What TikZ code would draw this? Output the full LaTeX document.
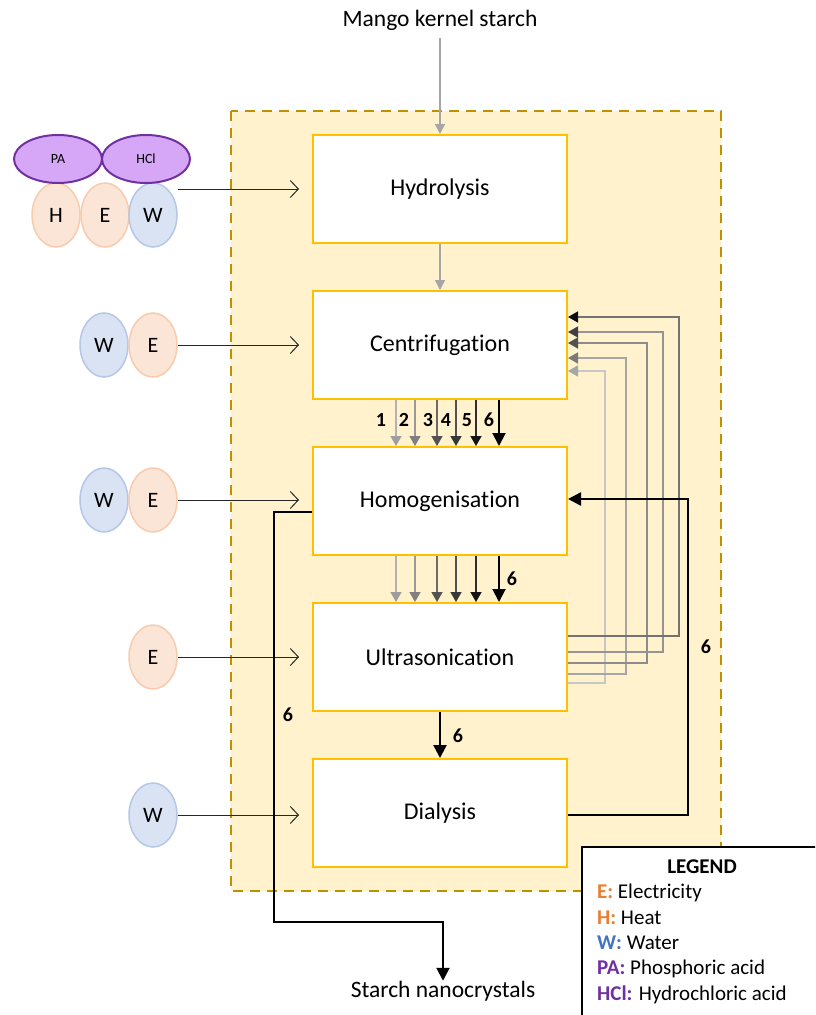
\documentclass[tikz,border=0pt]{standalone}
\usepackage{fontspec}
\setmainfont{Carlito}[Ligatures=NoCommon]
\usetikzlibrary{arrows.meta,shapes.geometric}

\definecolor{bgfill}{HTML}{FFF2CC}
\definecolor{bgline}{HTML}{BF9000}
\definecolor{boxline}{HTML}{FFC000}
\definecolor{orangefill}{HTML}{FBE5D6}
\definecolor{orangeline}{HTML}{F8CBAD}
\definecolor{bluefill}{HTML}{DAE3F3}
\definecolor{blueline}{HTML}{B4C7E7}
\definecolor{acidfill}{HTML}{D6A7F7}
\definecolor{acidline}{HTML}{7030A0}
\definecolor{orangetxt}{HTML}{ED7D31}
\definecolor{bluetxt}{HTML}{4472C4}

\tikzset{
  stage/.style={draw=boxline, line width=2pt, fill=white, minimum width=254pt,
    minimum height=108pt, inner sep=0pt, font=\fontsize{24}{28}\selectfont},
  res/.style={ellipse, line width=1.5pt, minimum width=48pt, minimum height=64pt,
    inner sep=0pt, font=\fontsize{22}{26}\selectfont},
  heat/.style={res, draw=orangeline, fill=orangefill},
  water/.style={res, draw=blueline, fill=bluefill},
  acid/.style={ellipse, draw=acidline, fill=acidfill, line width=2pt,
    minimum width=88pt, minimum height=48pt, inner sep=0pt,
    font=\fontsize{14}{16}\selectfont},
  feed/.style={draw=black!85, line width=1pt, -{Straight Barb[length=8pt,width=17pt]}, shorten >=13pt},
  flow/.style={draw=black!35, line width=1.5pt, -{Triangle[length=10pt,width=10pt]}},
  pass/.style 2 args={draw=#1, line width=1.6pt, -{Triangle[length=10pt,width=11pt,color=#2]}},
  main/.style={draw=black, line width=2.4pt, -{Triangle[length=13pt,width=13pt]}},
  num/.style={font=\fontsize{20}{22}\selectfont\bfseries, inner sep=0pt},
  plain/.style={font=\fontsize{23.5}{27}\selectfont, inner sep=0pt},
  lgitem/.style={font=\fontsize{21}{24}\selectfont, inner sep=0pt, anchor=west},
}

\begin{document}
\begin{tikzpicture}[x=1pt, y=-1pt]
\useasboundingbox (0,0) rectangle (815,1015);
\clip (0,0) rectangle (815,1015);

% process frame
\draw[fill=bgfill, draw=bgline, line width=2pt, dash pattern=on 10pt off 7pt]
  (231,111) rectangle (721,891);

% process stages
\node[stage] (hyd) at (440,189) {Hydrolysis};
\node[stage] (cen) at (440,345) {Centrifugation};
\node[stage] (hom) at (440,501) {Homogenisation};
\node[stage] (ult) at (440,657) {Ultrasonication};
\node[stage] (dia) at (440,813) {Dialysis};

% raw material and product
\node[plain] (msk) at (440,20) {Mango kernel starch};
\node[plain] (snc) at (443,991) {Starch nanocrystals};

\draw[flow] (msk.south) ++(0,8) -- (hyd.north);
\draw[flow] (hyd.south) -- (cen.north);

% resource inputs
\node[heat]  (h1) at (56,215) {H};
\node[heat]  (e1) at (105,215) {E};
\node[water] (w1) at (153,215) {W};
\node[acid]  (pa)  at (58,159) {PA};
\node[acid]  (hcl) at (146,159) {HCl};

\node[water] (w2) at (104,345) {W};
\node[heat]  (e2) at (153,345) {E};
\node[water] (w3) at (104,500) {W};
\node[heat]  (e3) at (153,500) {E};
\node[heat]  (e4) at (153,657) {E};
\node[water] (w5) at (153,815) {W};

\draw[feed] (w1.east |- hyd.west) -- (hyd.west);
\draw[feed] (e2.east) -- (cen.west |- e2.east);
\draw[feed] (e3.east) -- (hom.west |- e3.east);
\draw[feed] (e4.east) -- (ult.west);
\draw[feed] (w5.east) -- (dia.west |- w5.east);

% centrifugation -> homogenisation, passes 1-6
\draw[pass={black!30}{black!38}] ([xshift=-44pt]cen.south) -- ([xshift=-44pt]hom.north);
\draw[pass={black!40}{black!50}] ([xshift=-25pt]cen.south) -- ([xshift=-25pt]hom.north);
\draw[pass={black!58}{black!68}] ([xshift=-3pt]cen.south) -- ([xshift=-3pt]hom.north);
\draw[pass={black!68}{black!78}] ([xshift=16pt]cen.south) -- ([xshift=16pt]hom.north);
\draw[pass={black!82}{black!92}] ([xshift=36pt]cen.south) -- ([xshift=36pt]hom.north);
\draw[main, line width=2pt] ([xshift=59pt]cen.south) -- ([xshift=59pt]hom.north);

\node[num] (p1) at (381,420) {1};
\node[num] (p2) at (404,420) {2};
\node[num] (p3) at (428,420) {3};
\node[num] (p4) at (446,420) {4};
\node[num] (p5) at (467,420) {5};
\node[num] (p6) at (489,420) {6};

% homogenisation -> ultrasonication, passes 1-6
\draw[pass={black!30}{black!38}] ([xshift=-44pt]hom.south) -- ([xshift=-44pt]ult.north);
\draw[pass={black!40}{black!50}] ([xshift=-25pt]hom.south) -- ([xshift=-25pt]ult.north);
\draw[pass={black!58}{black!68}] ([xshift=-3pt]hom.south) -- ([xshift=-3pt]ult.north);
\draw[pass={black!68}{black!78}] ([xshift=16pt]hom.south) -- ([xshift=16pt]ult.north);
\draw[pass={black!82}{black!92}] ([xshift=36pt]hom.south) -- ([xshift=36pt]ult.north);
\draw[main, line width=2pt] ([xshift=59pt]hom.south) -- ([xshift=59pt]ult.north);
\node[num] (q6) at (512,579) {6};

% return loops, passes 1-5
\draw[pass={black!22}{black!35}] (ult.east |- 0,683) -| (605,371) -- (cen.east |- 0,371);
\draw[pass={black!35}{black!52}] (ult.east |- 0,674) -| (626,358) -- (cen.east |- 0,358);
\draw[pass={black!45}{black!68}] (ult.east |- 0,663) -| (647,343) -- (cen.east |- 0,343);
\draw[pass={black!42}{black!75}] (ult.east |- 0,652) -| (663,332) -- (cen.east |- 0,332);
\draw[pass={black!55}{black!95}] (ult.east |- 0,636) -| (679,317) -- (cen.east |- 0,317);

% pass 6
\draw[main] (ult.south) -- (dia.north);
\node[num] (r6) at (458,736) {6};

\draw[main] (dia.east |- 0,815) -| (688,499) -- (hom.east |- 0,499);
\node[num] (s6) at (706,647) {6};

\draw[main, line width=2pt] (hom.west |- 0,512) -| (274,922) -| (snc.north);
\node[num] (t6) at (288,715) {6};

% legend
\node[draw=black, line width=2pt, fill=white, anchor=north west,
  minimum width=260pt, minimum height=200pt, inner sep=0pt] (legend) at (581,846) {};
\node[font=\fontsize{21}{24}\selectfont\bfseries, inner sep=0pt] (lgtitle) at (702,867) {LEGEND};
\node[lgitem] (lge) at (597,893) {\textcolor{orangetxt}{\bfseries E:} Electricity};
\node[lgitem] (lgh) at (597,918) {\textcolor{orangetxt}{\bfseries H:} Heat};
\node[lgitem] (lgw) at (597,943) {\textcolor{bluetxt}{\bfseries W:} Water};
\node[lgitem] (lgp) at (597,969) {\textcolor{acidline}{\bfseries PA:} Phosphoric acid};
\node[lgitem] (lgc) at (597,995) {\textcolor{acidline}{\bfseries HCl:} Hydrochloric acid};
\end{tikzpicture}
\end{document}
